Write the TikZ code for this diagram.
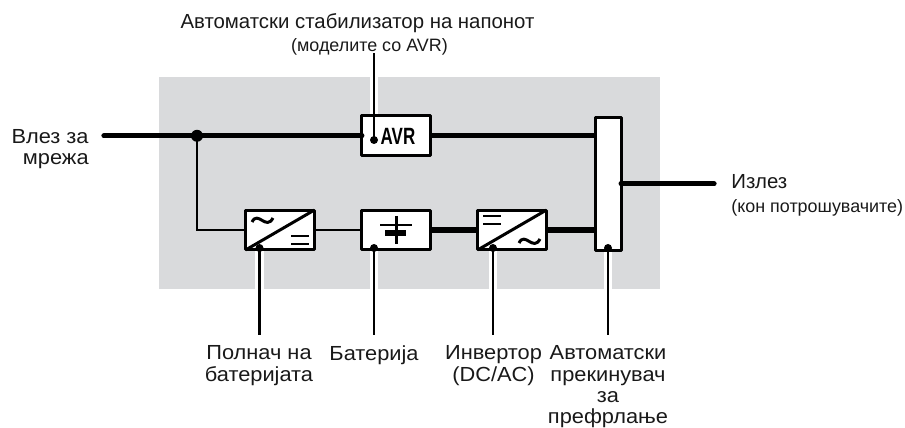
\documentclass[tikz,border=0pt]{standalone}
\usepackage{fontspec}
\setmainfont{Liberation Sans}
\newfontfamily\avrfont[FakeStretch=0.72]{Liberation Sans}
\newfontfamily\widefont[FakeStretch=1.07]{Liberation Sans}
\newcommand{\normaltxt}{\fontsize{11.6}{12.1}\selectfont}
\newcommand{\smalltxt}{\fontsize{10.2}{12}\selectfont}
\definecolor{panelgray}{HTML}{D9DADC}
\tikzset{
	thinline/.style={black, line width=1.7pt},
	thickline/.style={black, line width=3pt},
	symline/.style={black, line width=1.7pt},
	pointer/.style={black, line width=1.15pt},
	halo/.style={white, line width=4.7pt},
	block/.style={draw=black, fill=white, line width=1.7pt, inner sep=0pt, outer sep=0pt, line join=round, minimum width=38.9pt, minimum height=22.6pt},
	txt/.style={inner sep=0pt, align=center, font=\normaltxt, text=black!90},
	widetxt/.style={txt, font=\widefont\normaltxt},
}

\begin{document}
\begin{tikzpicture}[x=0.02cm, y=-0.02cm]
	\useasboundingbox (0,0) rectangle (905,428);

	% Grauer Hintergrund
	\fill[panelgray] (159,77) rectangle (660,289);

	% Hinweislinien (weisser Rand)
	\coordinate (Pavr) at (374,140);
	\coordinate (Pchg) at (259.5,248);
	\coordinate (Pbat) at (374,248);
	\coordinate (Pinv) at (493,248);
	\coordinate (Psw) at (608,248);
	\coordinate (Eavr) at (374,53);
	\coordinate (Tavr) at (374,77);
	\coordinate (Echg) at (259.5,335);
	\coordinate (Ebat) at (374,335);
	\coordinate (Einv) at (493,335);
	\coordinate (Esw) at (608,335);

	\draw[halo] (Pchg) -- (Echg);
	\draw[halo] (Pbat) -- (Ebat);
	\draw[halo] (Pinv) -- (Einv);
	\draw[halo] (Psw) -- (Esw);
	\draw[halo] (Pavr) -- (Tavr);

	% Bloecke
	\node[block] (AVR) at (396,135.8) {};
	\node[block] (CHG) at (280,230) {};
	\node[block] (BAT) at (396,230) {};
	\node[block] (INV) at (512,230) {};
	\node[block, minimum width=14.6pt, minimum height=76pt] (SW) at (608.3,183.8) {};
	\node[inner sep=0pt, anchor=base, font=\avrfont\bfseries\fontsize{13.4}{14}\selectfont] (AVRtxt) at (398,145) {AVR};

	% Punkte fuer Leitungen
	\coordinate (IN) at (104,135.8);
	\coordinate (J) at (197,135.8);
	\coordinate (K) at (197,230);
	\coordinate (OUT) at (714,183.8);

	% Dicke Leitungen
	\draw[thickline, line cap=round] (IN) -- (AVR.west);
	\draw[thickline] (AVR.east) -- (AVR.east -| SW.west);
	\draw[thickline] (BAT.east) -- (INV.west);
	\draw[thickline] (INV.east) -- (INV.east -| SW.west);
	\draw[thickline, line cap=round] (SW.east) -- (OUT);

	% Duenne Leitungen
	\draw[thinline] (J) -- (K) -- (CHG.west);
	\draw[thinline] (CHG.east) -- (BAT.west);
	\fill (J) circle (6);

	% Symbole Lader
	\draw[symline] (CHG.south west) -- (CHG.north east);
	\draw[symline] (252,222) .. controls (258,210) and (266,231) .. (273,218);
	\draw[symline] (291,236) -- (309,236);
	\draw[symline] (291,244) -- (309,244);

	% Symbole Batterie
	\draw[symline] (396,216) -- (396,244);
	\draw[symline] (380,225) -- (412,225);
	\fill (385,230) rectangle (406,236);

	% Symbole Wechselrichter
	\draw[symline] (INV.south west) -- (INV.north east);
	\draw[symline] (483,216) -- (501,216);
	\draw[symline] (483,224) -- (501,224);
	\draw[symline] (519,243) .. controls (525,231) and (533,252) .. (540,239);

	% Hinweislinien
	\draw[pointer] (Pavr) -- (Eavr);
	\draw[pointer] (Pchg) -- (Echg);
	\draw[pointer] (Pbat) -- (Ebat);
	\draw[pointer] (Pinv) -- (Einv);
	\draw[pointer] (Psw) -- (Esw);
	\fill (Pavr) circle (4);
	\fill (Pchg) circle (4);
	\fill (Pbat) circle (4);
	\fill (Pinv) circle (4);
	\fill (Psw) circle (4);

	% Beschriftungen
	\node[txt, anchor=base] (Lavr) at (357.5,29) {Автоматски стабилизатор на напонот};
	\node[txt, anchor=base, font=\smalltxt] (Lavrs) at (369.5,52) {(моделите со AVR)};
	\node[widetxt, anchor=north east, align=right] (Lin) at (89,129) {Влез за\\мрежа};
	\node[txt, anchor=base west] (Lout) at (731,189) {Излез};
	\node[txt, anchor=base west, font=\smalltxt] (Louts) at (731,213) {(кон потрошувачите)};
	\node[widetxt, anchor=north] (Lchg) at (259,345.5) {Полнач на\\батеријата};
	\node[widetxt, anchor=north] (Lbat) at (374,345.5) {Батерија};
	\node[widetxt, anchor=north] (Linv) at (493.5,345.5) {Инвертор\\(DC/AC)};
	\node[widetxt, anchor=north] (Lsw) at (608,345.5) {Автоматски\\прекинувач\\за\\префрлање};
\end{tikzpicture}
\end{document}
